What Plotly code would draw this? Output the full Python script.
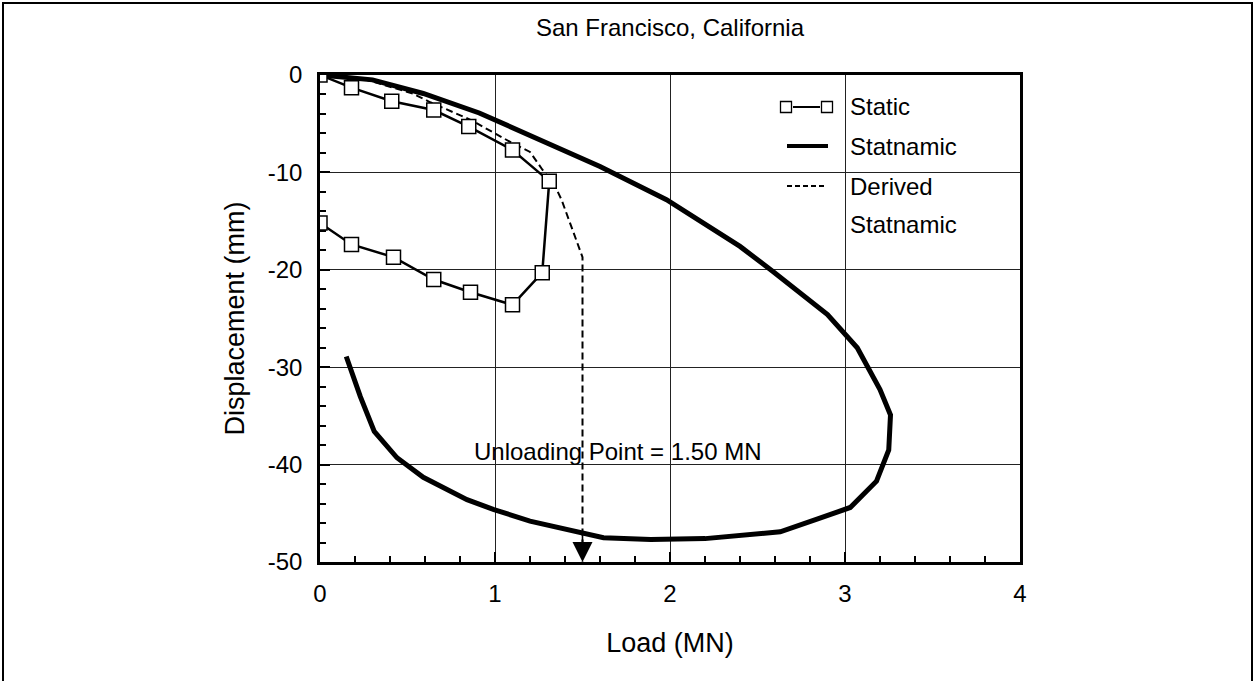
import plotly.graph_objects as go

# ---- data (Load in MN, Displacement in mm) ----
static_load = [0.0, 0.18, 0.41, 0.65, 0.85, 1.10, 1.31, 1.27, 1.10, 0.86, 0.65, 0.42, 0.18, 0.0]
static_disp = [0.0, -1.3, -2.7, -3.6, -5.3, -7.7, -10.9, -20.3, -23.6, -22.3, -21.0, -18.7, -17.4, -15.2]

statnamic_load = [0.0, 0.30, 0.59, 0.91, 1.30, 1.60, 1.98, 2.21, 2.40, 2.59, 2.90, 3.07, 3.13, 3.20,
                  3.26, 3.25, 3.18, 3.03, 2.84, 2.63, 2.20, 1.89, 1.62, 1.49, 1.35, 1.20, 0.99, 0.84,
                  0.59, 0.44, 0.31, 0.23, 0.15]
statnamic_disp = [0.0, -0.5, -1.9, -3.9, -7.0, -9.4, -12.8, -15.4, -17.6, -20.2, -24.6, -28.0, -30.1, -32.3,
                  -34.9, -38.5, -41.7, -44.4, -45.6, -46.9, -47.6, -47.7, -47.5, -47.0, -46.5, -45.8, -44.6, -43.6,
                  -41.3, -39.3, -36.6, -33.0, -28.9]

derived_load = [0.0, 0.25, 0.53, 0.63, 0.86, 1.10, 1.20, 1.27, 1.34, 1.38, 1.50, 1.50]
derived_disp = [0.0, -0.4, -1.9, -2.8, -4.6, -7.0, -7.9, -9.7, -11.3, -12.8, -18.7, -50.0]

unloading_point = 1.50  # MN

x_ticks = [0, 1, 2, 3, 4]
x_tick_text = ["0", "1", "2", "3", "4"]
y_ticks = [0, -10, -20, -30, -40, -50]
y_tick_text = ["0", "-10", "-20", "-30", "-40", "-50"]

# ---- layout geometry (pixels) ----
W, H = 1255, 681
PL, PR, PT, PB = 320, 1020, 75, 562

def px_x(px):
    return (px - PL) / (PR - PL)

def px_y(py):
    return (PB - py) / (PB - PT)

FONT = "Arial, Liberation Sans, Helvetica, sans-serif"

fig = go.Figure()

fig.add_trace(go.Scatter(
    x=statnamic_load, y=statnamic_disp, mode="lines", name="Statnamic",
    line=dict(color="black", width=5), showlegend=False))

fig.add_trace(go.Scatter(
    x=derived_load, y=derived_disp, mode="lines", name="Derived Statnamic",
    line=dict(color="black", width=2, dash="7px,4px"), showlegend=False))

fig.add_trace(go.Scatter(
    x=static_load, y=static_disp, mode="lines+markers", name="Static",
    line=dict(color="black", width=2.5),
    marker=dict(symbol="square", size=14, color="white", line=dict(color="black", width=1.5)),
    showlegend=False))

# arrowhead at the end of the unloading drop
fig.add_annotation(x=unloading_point, y=-50, ax=unloading_point, ay=-47.0,
                   xref="x", yref="y", axref="x", ayref="y", text="",
                   showarrow=True, arrowhead=2, arrowsize=2.5, arrowwidth=1.6,
                   arrowcolor="black", standoff=0)

fig.add_annotation(x=1.70, y=-38.7, xref="x", yref="y",
                   text=f"Unloading Point = {unloading_point:.2f} MN", showarrow=False,
                   font=dict(family=FONT, size=24, color="black"))

# ---- key ----
shapes = []
row_static, row_stat, row_der, row_der2 = 107, 146, 186, 224
for cx in (786, 827):
    shapes.append(dict(type="rect", xref="paper", yref="paper",
                       x0=px_x(cx - 5.5), x1=px_x(cx + 5.5),
                       y0=px_y(row_static + 5.5), y1=px_y(row_static - 5.5),
                       line=dict(color="black", width=1.3), fillcolor="white"))
shapes.append(dict(type="line", xref="paper", yref="paper",
                   x0=px_x(793), x1=px_x(820), y0=px_y(row_static), y1=px_y(row_static),
                   line=dict(color="black", width=2)))
shapes.append(dict(type="line", xref="paper", yref="paper",
                   x0=px_x(787), x1=px_x(828), y0=px_y(row_stat), y1=px_y(row_stat),
                   line=dict(color="black", width=4)))
shapes.append(dict(type="line", xref="paper", yref="paper",
                   x0=px_x(787), x1=px_x(825), y0=px_y(row_der), y1=px_y(row_der),
                   line=dict(color="black", width=1.8, dash="5px,3px")))
# outer frame
shapes.append(dict(type="rect", xref="paper", yref="paper",
                   x0=px_x(3), x1=px_x(1252), y0=px_y(700), y1=px_y(3),
                   line=dict(color="black", width=2), fillcolor="rgba(0,0,0,0)", layer="below"))

for txt, row in (("Static", row_static), ("Statnamic", row_stat),
                 ("Derived", row_der), ("Statnamic", row_der2)):
    fig.add_annotation(x=px_x(848), y=px_y(row), xref="paper", yref="paper",
                       xanchor="left", yanchor="middle", text=txt, showarrow=False,
                       font=dict(family=FONT, size=24, color="black"))

axis_common = dict(
    showline=True, linecolor="black", linewidth=2.5, mirror=True,
    showgrid=True, gridcolor="#222222", gridwidth=1,
    zeroline=False, ticks="inside", ticklen=10, tickwidth=2, tickcolor="black",
    tickfont=dict(family=FONT, size=24, color="black"),
)

fig.update_layout(
    width=W, height=H,
    margin=dict(l=PL, r=W - PR, t=PT, b=H - PB),
    paper_bgcolor="white", plot_bgcolor="white",
    showlegend=False,
    shapes=shapes,
    title=dict(text="San Francisco, California", x=0.5, xref="paper", y=1 - 28 / H,
               yanchor="middle", xanchor="center",
               font=dict(family=FONT, size=24, color="black")),
    xaxis=dict(range=[0, 4], tickvals=x_ticks, ticktext=x_tick_text, ticklabelstandoff=8,
               title=dict(text="Load (MN)", standoff=28, font=dict(family=FONT, size=27, color="black")),
               minor=dict(dtick=0.2, ticks="inside", ticklen=6, tickwidth=1.5, tickcolor="black", showgrid=False),
               **axis_common),
    yaxis=dict(range=[-50, 0], tickvals=y_ticks, ticktext=y_tick_text, ticklabelstandoff=10,
               title=dict(text="Displacement (mm)", standoff=16, font=dict(family=FONT, size=27, color="black")),
               minor=dict(dtick=2, ticks="inside", ticklen=6, tickwidth=1.5, tickcolor="black", showgrid=False),
               **axis_common),
)

fig.write_html("out.html")
